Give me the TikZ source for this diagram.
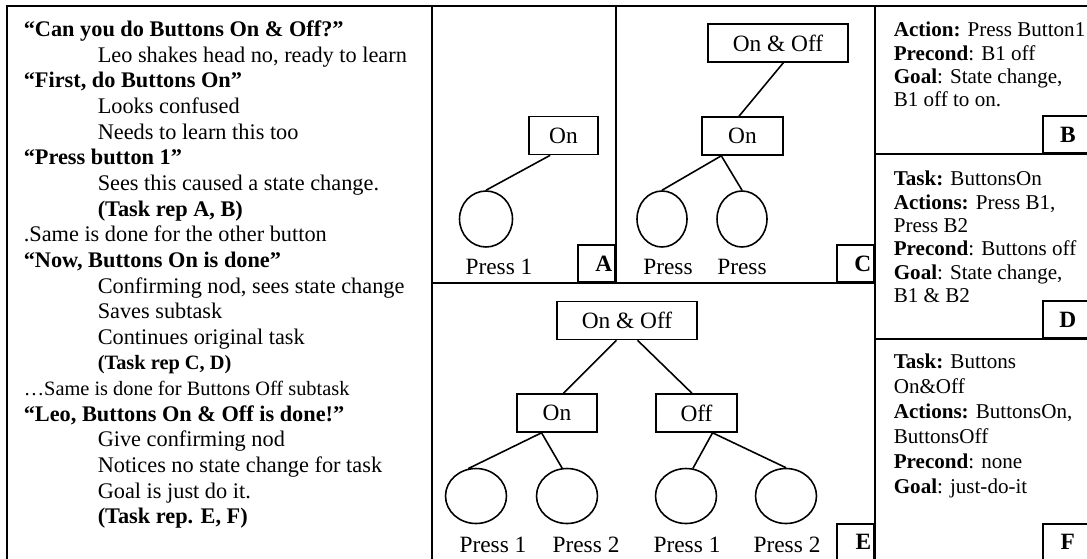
\documentclass[tikz,border=0pt]{standalone}
\usepackage{fontspec}
\setmainfont{Liberation Serif}
\usetikzlibrary{shapes.geometric}

\newcommand{\talkfont}{\fontsize{12.7}{14.6}\selectfont}
\newcommand{\talksmall}{\fontsize{11.6}{14.6}\selectfont}
\newcommand{\sidefont}{\fontsize{12}{13.3}\selectfont}
\newcommand{\treefont}{\fontsize{13.3}{15}\selectfont}
\newcommand{\ind}{\hspace*{1.48cm}}

\begin{document}
\begin{tikzpicture}[x=0.02cm,y=-0.02cm,line width=0.9pt,
  leaf/.style={draw, ellipse, inner sep=0pt, minimum width=1.22cm, minimum height=1.1cm},
  goal/.style={draw, rectangle, inner sep=0pt, minimum height=0.76cm, font=\treefont},
  lbl/.style={anchor=base, inner sep=0pt, font=\treefont},
  tag/.style={draw, anchor=south east, minimum height=0.74cm, text width=0.62cm, align=right, inner sep=0.06cm, font=\treefont\bfseries},
  sidetag/.style={draw, anchor=south west, minimum height=0.74cm, minimum width=1cm, inner sep=0pt, font=\treefont\bfseries},
  block/.style={anchor=north west, align=left, inner sep=0pt}]
	\useasboundingbox (0,0) rectangle (1087,558);
	\clip (0,0) rectangle (1087,558);
	
	% frame
	\draw (7,563) -- (7,6) -- (1092,6);
	\draw (432,6) -- (432,563);
	\draw (616,6) -- (616,283);
	\draw (875,6) -- (875,563);
	\draw (432,283) -- (875,283);
	\draw (875,154) -- (1092,154);
	\draw (875,339) -- (1092,339);
	
	% the dialogue
	\node[block, font=\talkfont] (talk) at (23,20) {%
		\textbf{“Can you do Buttons On \& Off?”}\\
		\ind Leo shakes head no, ready to learn\\
		\textbf{“First, do Buttons On”}\\
		\ind Looks confused\\
		\ind Needs to learn this too\\
		\textbf{“Press button 1”}\\
		\ind Sees this caused a state change.\\
		\ind\textbf{(Task rep A, B)}\\
		.Same is done for the other button\\
		\textbf{“Now, Buttons On is done”}\\
		\ind Confirming nod, sees state change\\
		\ind Saves subtask\\
		\ind Continues original task\\
		\ind{\talksmall\textbf{(Task rep C, D)}}\\
		{\talksmall …Same is done for Buttons Off subtask}\\
		\textbf{“Leo, Buttons On \& Off is done!”}\\
		\ind Give confirming nod\\
		\ind Notices no state change for task\\
		\ind Goal is just do it.\\
		\ind\textbf{(Task rep. E, F)}};
	
	% tree A
	\node[goal, minimum width=1.38cm] (onA) at (563.5,135.5) {On};
	\node[leaf, minimum width=1.06cm, minimum height=1.12cm] (pA) at (486,219) {};
	\node[lbl] (lA) at (499,274) {Press 1};
	\draw (onA.236) -- (pA.north);
	\node[tag] (tagA) at (616,283) {A};
	
	% tree C
	\node[goal, minimum width=2.8cm] (bothC) at (778,43) {On \& Off};
	\node[goal, minimum width=1.62cm] (onC) at (742.5,136) {On};
	\node[leaf, minimum width=1cm, minimum height=1.12cm] (pC1) at (662,219) {};
	\node[leaf, minimum width=1cm, minimum height=1.12cm] (pC2) at (742,219) {};
	\node[lbl] (lC1) at (668,274) {Press};
	\node[lbl] (lC2) at (742,274) {Press};
	\draw (bothC.-75) -- (onC.100);
	\draw (onC.-137) -- (pC1.north);
	\draw (onC.-137) -- (pC2.north);
	\node[tag] (tagC) at (875,283) {C};
	
	% tree E
	\node[goal, minimum width=2.8cm] (bothE) at (627,320.5) {On \& Off};
	\node[goal, minimum width=1.6cm] (onE) at (557,413) {On};
	\node[goal, minimum width=1.62cm] (offE) at (696.5,413) {Off};
	\node[leaf] (pE1) at (476,496) {};
	\node[leaf] (pE2) at (567,496) {};
	\node[leaf] (pE3) at (686,496) {};
	\node[leaf] (pE4) at (786,496) {};
	\node[lbl] (lE1) at (493,552) {Press 1};
	\node[lbl] (lE2) at (586,552) {Press 2};
	\node[lbl] (lE3) at (687,552) {Press 1};
	\node[lbl] (lE4) at (787,552) {Press 2};
	\draw (bothE.-118) -- (onE.72);
	\draw (bothE.-62) -- (offE.103);
	\draw (onE.-128) -- (pE1.106);
	\draw (onE.-128) -- (pE2.100);
	\draw (offE.-51) -- (pE3.76);
	\draw (offE.-51) -- (pE4.north);
	\node[tag, anchor=north east] (tagE) at (875,523) {E};
	
	% task representations
	\node[block, font=\sidefont] (repB) at (893,21.4) {%
		\textbf{Action:} Press Button1\\
		\textbf{Precond}: B1 off\\
		\textbf{Goal}: State change,\\
		B1 off to on.};
	\node[sidetag] (tagB) at (1042,154) {B};
	
	\node[block, font=\sidefont] (repD) at (893,170.4) {%
		\textbf{Task:} ButtonsOn\\
		\textbf{Actions:} Press B1,\\
		Press B2\\
		\textbf{Precond}: Buttons off\\
		\textbf{Goal}: State change,\\
		B1 \& B2};
	\node[sidetag] (tagD) at (1042,339) {D};
	
	\node[block, font=\fontsize{12}{14.2}\selectfont] (repF) at (893,353.4) {%
		\textbf{Task:} Buttons\\
		On\&Off\\
		\textbf{Actions:} ButtonsOn,\\
		ButtonsOff\\
		\textbf{Precond}: none\\
		\textbf{Goal}: just-do-it};
	\node[sidetag, anchor=north west] (tagF) at (1042,523) {F};
\end{tikzpicture}
\end{document}
